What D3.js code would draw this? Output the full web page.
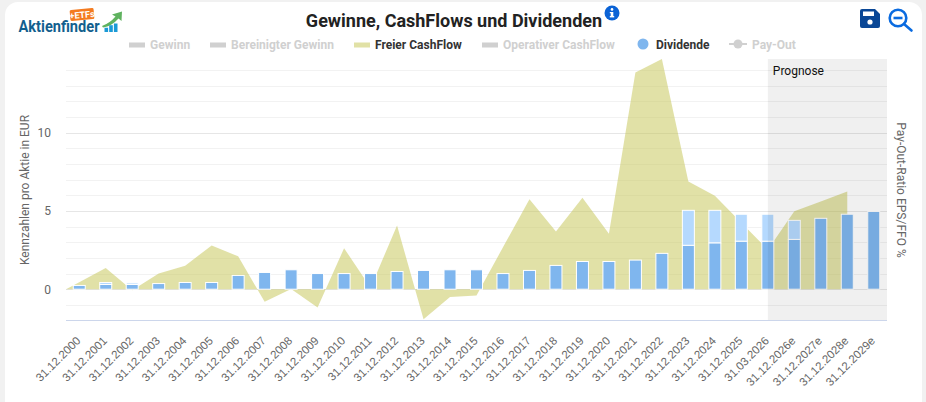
<!DOCTYPE html>
<html lang="de">
<head>
<meta charset="utf-8">
<title>Gewinne, CashFlows und Dividenden</title>
<script src="https://cdn.jsdelivr.net/npm/d3@7/dist/d3.min.js"></script>
<style>
  html, body { margin: 0; padding: 0; background: #f1f1f1; }
  svg { display: block; font-family: Roboto, sans-serif; }
</style>
</head>
<body>
<svg id="chart" width="926" height="402"></svg>
<script>
// Reporting dates along the category axis
const periods = [
  "31.12.2000","31.12.2001","31.12.2002","31.12.2003","31.12.2004","31.12.2005","31.12.2006",
  "31.12.2007","31.12.2008","31.12.2009","31.12.2010","31.12.2011","31.12.2012","31.12.2013",
  "31.12.2014","31.12.2015","31.12.2016","31.12.2017","31.12.2018","31.12.2019","31.12.2020",
  "31.12.2021","31.12.2022","31.12.2023","31.12.2024","31.12.2025","31.03.2026","31.12.2026e",
  "31.12.2027e","31.12.2028e","31.12.2029e"
];
// Free cash flow per share in EUR; the last period has no estimate
const freeCashFlow = [
  0.45, 1.36, -0.07, 1.0, 1.5, 2.8, 2.1, -0.8, 0.02, -1.17, 2.62, 0.1, 4.07, -1.92, -0.5, -0.41,
  2.68, 5.74, 3.68, 5.84, 3.55, 13.85, 14.71, 6.88, 5.97, 4.25, 2.52, 4.98, 5.6, 6.25, null
];
// Dividend per share in EUR
const dividend = [
  0.24, 0.3, 0.3, 0.36, 0.43, 0.43, 0.88, 1.07, 1.24, 1.0, 1.0, 1.0, 1.13, 1.2, 1.24, 1.24,
  1.0, 1.2, 1.52, 1.77, 1.77, 1.86, 2.29, 2.8, 2.95, 3.06, 3.06, 3.18, 4.53, 4.79, 4.97
];
// Additional payment stacked on top of the regular dividend
const extraDividend = [
  0, 0.13, 0.1, 0, 0, 0, 0, 0, 0, 0, 0, 0, 0, 0, 0, 0,
  0, 0, 0, 0, 0, 0, 0, 2.24, 2.09, 1.73, 1.73, 1.22, 0, 0, 0
];
const yTickLabels = [0, 5, 10];
const minorGridValues = [-1, 1, 2, 3, 4, 6, 7, 8, 9, 11, 12, 13, 14];
const majorGridValues = [0, 5, 10];
const forecastStart = "31.03.2026";

const legendNames = ["Gewinn", "Bereinigter Gewinn", "Freier CashFlow", "Operativer CashFlow", "Dividende", "Pay-Out"];
const legendActive = [false, false, true, false, true, false];
const legendKinds = ["bar", "bar", "bar", "bar", "dot", "line"];

// Layout and colours
const legendX = [129, 210, 354, 482, 637, 729];
const margin = { left: 66, right: 887, top: 59, bottom: 320.5 };
const dateFont = "'Liberation Sans', Arial, sans-serif";
const colors = {
  area: "rgb(195,195,80)", bar: "#7fb6ee", barLight: "#b5d9fe", muted: "#d0d0d0",
  text: "#666666", title: "#222222", minor: "#f2f2f2", major: "#e6e6e6", axis: "#ccd6eb"
};

const svg = d3.select("#chart");

// Page card
svg.append("rect").attr("x", 5).attr("y", 2).attr("width", 917).attr("height", 420)
  .attr("rx", 13).attr("fill", "#ffffff");

const x = d3.scaleBand().domain(periods).range([margin.left, margin.right]);
const y = d3.scaleLinear().domain([-2, 14.71]).range([margin.bottom, margin.top]);
const cx = d => x(d) + x.bandwidth() / 2;

// Horizontal grid
const grid = svg.append("g");
grid.selectAll("line.minor").data(minorGridValues).join("line").attr("class", "minor")
  .attr("x1", margin.left).attr("x2", margin.right)
  .attr("y1", d => Math.round(y(d)) + 0.5).attr("y2", d => Math.round(y(d)) + 0.5)
  .attr("stroke", colors.minor);
grid.selectAll("line.major").data(majorGridValues).join("line").attr("class", "major")
  .attr("x1", margin.left).attr("x2", margin.right)
  .attr("y1", d => Math.round(y(d)) + 0.5).attr("y2", d => Math.round(y(d)) + 0.5)
  .attr("stroke", colors.major);

// Free cash flow area, opening on the zero line at the plot edge
const cashPoints = periods.map((p, i) => ({ px: cx(p), v: freeCashFlow[i] })).filter(d => d.v !== null);
cashPoints.unshift({ px: margin.left, v: 0 });
const area = d3.area().x(d => d.px).y0(y(0)).y1(d => y(d.v));
svg.append("path").datum(cashPoints).attr("d", area)
  .attr("fill", colors.area).attr("fill-opacity", 0.5);

// Stacked dividend bars
const barWidth = 12;
const bars = svg.append("g").attr("stroke", "#ffffff").attr("stroke-width", 1);
bars.selectAll("rect.extra").data(periods.filter((p, i) => extraDividend[i] > 0)).join("rect")
  .attr("class", "extra")
  .attr("x", d => cx(d) - barWidth / 2).attr("width", barWidth)
  .attr("y", d => { const i = periods.indexOf(d); return y(dividend[i] + extraDividend[i]); })
  .attr("height", d => { const i = periods.indexOf(d); return y(dividend[i]) - y(dividend[i] + extraDividend[i]); })
  .attr("fill", colors.barLight);
bars.selectAll("rect.base").data(periods).join("rect")
  .attr("class", "base")
  .attr("x", d => cx(d) - barWidth / 2).attr("width", barWidth)
  .attr("y", (d, i) => y(dividend[i]))
  .attr("height", (d, i) => y(0) - y(dividend[i]))
  .attr("fill", colors.bar);

// Forecast band lies over the marks and tints them
const bandLeft = cx(forecastStart);
svg.append("rect").attr("x", bandLeft).attr("y", margin.top)
  .attr("width", margin.right - bandLeft).attr("height", margin.bottom - margin.top)
  .attr("fill", "#000000").attr("fill-opacity", 0.06);
svg.append("text").attr("x", bandLeft + 5).attr("y", 75)
  .attr("font-size", 12).attr("fill", "#111111").text("Prognose");

// Axis baseline
svg.append("line").attr("x1", margin.left).attr("x2", margin.right)
  .attr("y1", margin.bottom).attr("y2", margin.bottom).attr("stroke", colors.axis);

// Value axis
const yAxis = d3.axisLeft(y).tickValues(yTickLabels).tickSize(0).tickPadding(15);
svg.append("g").attr("transform", `translate(${margin.left},0)`).call(yAxis)
  .call(g => g.select(".domain").remove())
  .call(g => g.selectAll("text").attr("font-size", 12).attr("font-family", "Roboto, sans-serif").attr("fill", colors.text));

// Category axis with slanted dates
const xAxis = d3.axisBottom(x).tickSize(0);
svg.append("g").attr("transform", `translate(0,${margin.bottom})`).call(xAxis)
  .call(g => g.select(".domain").remove())
  .call(g => g.selectAll("text")
    .attr("font-size", 11.5).attr("font-family", dateFont).attr("fill", colors.text)
    .attr("text-anchor", "end").attr("dy", 0).attr("y", 0)
    .attr("transform", "translate(2,21) rotate(-45)"));

// Axis titles
svg.append("text").attr("transform", "translate(29,190) rotate(-90)").attr("text-anchor", "middle")
  .attr("font-size", 12).attr("fill", colors.text).text("Kennzahlen pro Aktie in EUR");
svg.append("text").attr("transform", "translate(897,190) rotate(90)").attr("text-anchor", "middle")
  .attr("font-size", 12).attr("fill", colors.text).text("Pay-Out-Ratio EPS/FFO %");

// Title and info badge
svg.append("text").attr("x", 454).attr("y", 27).attr("text-anchor", "middle")
  .attr("font-size", 18).attr("font-weight", 700).attr("fill", colors.title)
  .text("Gewinne, CashFlows und Dividenden");
const info = svg.append("g").attr("transform", "translate(612,13)");
info.append("circle").attr("r", 7.5).attr("fill", "#0b63d6");
info.append("circle").attr("cy", -3.6).attr("r", 1.3).attr("fill", "#fff");
info.append("rect").attr("x", -1.3).attr("y", -1).attr("width", 2.6).attr("height", 5).attr("fill", "#fff");
info.append("rect").attr("x", -2.2).attr("y", 3).attr("width", 4.4).attr("height", 1.4).attr("fill", "#fff");
info.append("rect").attr("x", -2.2).attr("y", -1).attr("width", 2).attr("height", 1.2).attr("fill", "#fff");

// Legend
const legend = svg.append("g").selectAll("g").data(legendNames).join("g")
  .attr("transform", (d, i) => `translate(${legendX[i]},44)`);
legend.each(function (name, i) {
  const g = d3.select(this);
  const kind = legendKinds[i];
  const on = legendActive[i];
  let textX = 21;
  if (kind === "bar") {
    g.append("rect").attr("x", 0).attr("y", -1.5).attr("width", 16).attr("height", 5)
      .attr("fill", on ? "#e1e1a6" : colors.muted);
  } else if (kind === "dot") {
    g.append("circle").attr("cx", 6).attr("cy", 0).attr("r", 5.5).attr("fill", colors.bar);
    textX = 19;
  } else {
    g.append("line").attr("x1", 0).attr("x2", 18).attr("y1", 0).attr("y2", 0)
      .attr("stroke", colors.muted).attr("stroke-width", 2);
    g.append("circle").attr("cx", 9).attr("cy", 0).attr("r", 4.5).attr("fill", colors.muted);
    textX = 23;
  }
  g.append("text").attr("x", textX).attr("y", 4.5)
    .attr("font-size", 12).attr("font-weight", 700)
    .attr("fill", on ? "#333333" : colors.muted).text(name);
});

// Toolbar icons: save and zoom out
const save = svg.append("g").attr("transform", "translate(860,9)");
save.append("path").attr("d", "M2,0 H15 L20,5 V17 Q20,19 18,19 H2 Q0,19 0,17 V2 Q0,0 2,0 Z").attr("fill", "#0a4796");
save.append("rect").attr("x", 3).attr("y", 2.5).attr("width", 11).attr("height", 4.5).attr("fill", "#ffffff");
save.append("circle").attr("cx", 10).attr("cy", 13).attr("r", 2.6).attr("fill", "#ffffff");
const zoomOut = svg.append("g").attr("transform", "translate(898,18)")
  .attr("fill", "none").attr("stroke", "#0a6be0").attr("stroke-width", 2.6);
zoomOut.append("circle").attr("r", 8.3);
zoomOut.append("line").attr("x1", -4.5).attr("x2", 4.5);
zoomOut.append("line").attr("x1", 6).attr("y1", 6).attr("x2", 13.5).attr("y2", 12.5).attr("stroke-linecap", "round");

// Brand mark
const logo = svg.append("g");
logo.append("path").attr("d", "M102,26 Q110,23 115.5,16.5 L112,14.5 L122,11.5 L121.5,21 L118.5,18.5 Q112,26 103,27.5 Z")
  .attr("fill", "#5fb25f");
logo.selectAll("rect.logobar").data([5, 8, 10]).join("rect").attr("class", "logobar")
  .attr("x", (d, i) => 104.5 + i * 4.7).attr("y", d => 32 - d * 0.85).attr("width", 3.6).attr("height", d => d * 0.85)
  .attr("fill", "#1b9ad6");
logo.append("text").attr("x", 18.5).attr("y", 32).attr("font-size", 16).attr("font-weight", 700)
  .attr("textLength", 81).attr("lengthAdjust", "spacingAndGlyphs").attr("fill", "#125f8e").text("Aktienfinder");
logo.append("g").attr("transform", "translate(82,14.5) rotate(-5)").call(t => {
  t.append("rect").attr("x", -12).attr("y", -5.5).attr("width", 24).attr("height", 11).attr("rx", 1.5).attr("fill", "#f47b20");
  t.append("text").attr("text-anchor", "middle").attr("y", 3.5).attr("font-size", 9).attr("font-weight", 700)
    .attr("fill", "#ffffff").text("+ETFs");
});
</script>
</body>
</html>
